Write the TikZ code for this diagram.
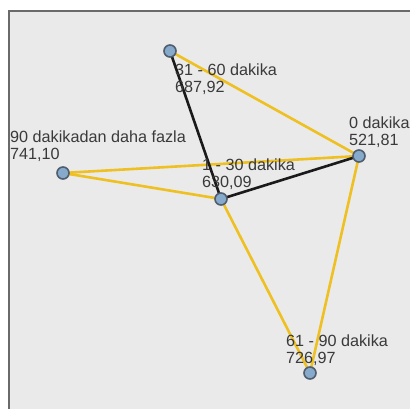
\documentclass[tikz,border=0pt]{standalone}
\usepackage{fontspec}
\setmainfont{Liberation Sans}
\usetikzlibrary{backgrounds}
\definecolor{panelbg}{HTML}{EAEAEA}
\definecolor{panelframe}{HTML}{6A6A6A}
\definecolor{linkgold}{HTML}{EEC021}
\definecolor{linkdark}{HTML}{1A1A1A}
\definecolor{dotfill}{HTML}{86AACB}
\definecolor{dotrim}{HTML}{4F5D6E}
\definecolor{labeltext}{HTML}{3A3A3A}
\tikzset{
  dot/.style={circle, minimum size=12pt, inner sep=0pt, fill=dotfill, draw=dotrim, line width=1.6pt},
  lbl/.style={anchor=north west, inner sep=0pt, align=left, text=labeltext,
    font=\fontsize{16.2}{17}\selectfont},
  weak/.style={draw=linkgold, line width=2.6pt},
  strong/.style={draw=linkdark, line width=2.6pt}
}
\begin{document}
\begin{tikzpicture}[x=1pt, y=-1pt]
\clip (0,0) rectangle (410,409);
\begin{pgfonlayer}{background}
  \fill[white] (0,0) rectangle (410,409);
  \draw[fill=panelbg, draw=panelframe, line width=1.8pt] (9,11) rectangle (430,430);
\end{pgfonlayer}

% category nodes
\node[dot] (m3160) at (170,51) {};
\node[dot] (m90)   at (63,173) {};
\node[dot] (m130)  at (221,199) {};
\node[dot] (m0)    at (359,156) {};
\node[dot] (m6190) at (310,373) {};

% labels
\node[lbl] (t3160) at (175,64)  {31 - 60 dakika\\687,92};
\node[lbl] (t90)   at (10,131)  {90 dakikadan daha fazla\\741,10};
\node[lbl] (t130)  at (202,159) {1 - 30 dakika\\630,09};
\node[lbl] (t0)    at (349,117) {0 dakika\\521,81};
\node[lbl] (t6190) at (286,335) {61 - 90 dakika\\726,97};

% links
\begin{pgfonlayer}{background}
  \draw[weak] (m3160.center) -- (m0.center);
  \draw[weak] (m90.center) -- (m0.center);
  \draw[weak] (m90.center) -- (m130.center);
  \draw[weak] (m130.center) -- (m6190.center);
  \draw[weak] (m0.center) -- (m6190.center);
  \draw[strong] (m3160.center) -- (m130.center);
  \draw[strong] (m130.center) -- (m0.center);
\end{pgfonlayer}
\end{tikzpicture}
\end{document}
